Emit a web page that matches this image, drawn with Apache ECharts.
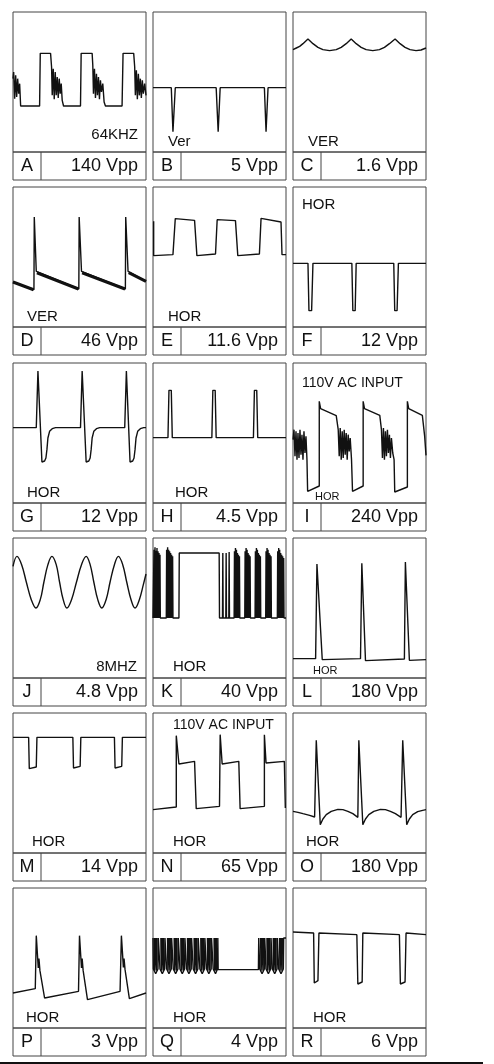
<!doctype html>
<html lang="en">
<head>
    <meta charset="UTF-8">
    <title>Waveforms A-R</title>
    <style>
        html, body { margin: 0; background: #fff; }
        #main { width: 494px; height: 1064px; }
    </style>
</head>
<body>
<div id="main"></div>
<script src="https://cdn.jsdelivr.net/npm/echarts@6/dist/echarts.min.js"></script>
<script>
    // panel names and peak-to-peak readings
    const letters = ['A','B','C','D','E','F','G','H','I','J','K','L','M','N','O','P','Q','R'];
    const vpp = ['140 Vpp','5 Vpp','1.6 Vpp','46 Vpp','11.6 Vpp','12 Vpp','12 Vpp','4.5 Vpp','240 Vpp',
                 '4.8 Vpp','40 Vpp','180 Vpp','14 Vpp','65 Vpp','180 Vpp','3 Vpp','4 Vpp','6 Vpp'];
    const notes = [['64KHZ'],['Ver'],['VER'],['VER'],['HOR'],['HOR'],['HOR'],['HOR'],['110V AC INPUT','HOR'],
                   ['8MHZ'],['HOR'],['HOR'],['HOR'],['110V AC INPUT','HOR'],['HOR'],['HOR'],['HOR'],['HOR']];

    // traces: [time 0..400, depth 0..420 from top of screen]
    const waveA = [[0,200],[2,180],[5,260],[8,190],[11,255],[14,200],[17,245],[20,215],[23,282],[80,282],[82,124],[113,124],
        [116,165],[118,250],[121,170],[124,262],[127,180],[130,250],[133,195],[136,258],[139,200],[142,245],[145,215],[148,265],[152,282],
        [203,282],[205,124],[238,124],[240,160],[242,245],[245,170],[248,258],[251,185],[254,250],[257,195],[260,262],[263,205],[266,240],
        [270,215],[274,270],[278,282],[328,282],[331,124],[363,124],[366,165],[368,250],[371,175],[374,262],[377,185],[380,250],[383,200],
        [386,258],[389,205],[392,245],[396,215],[400,250]];
    const waveB = [[0,227],[55,227],[60,359],[67,227],[190,227],[196,359],[202,227],[335,227],[340,359],[346,227],[400,227]];
    const waveC = [[0,113],[10,108],[20,103],[30,95],[45,81],[60,95],[75,106],[90,113],[110,116],[130,113],[145,106],[160,95],[175,81],
        [190,95],[205,106],[220,113],[240,116],[260,113],[275,106],[290,95],[307,81],[322,95],[337,106],[352,113],[370,116],[385,114],[400,108]];
    const waveD = [[0,285],[63,308],[64,90],[70,253],[73,258],[198,306],[199,90],[206,253],[210,258],[338,306],[339,90],[346,253],[350,258],[400,283]];
    const waveDBand = [[0,285],[62,308],[62,'-'],[72,257],[197,306],[197,'-'],[208,257],[337,306],[337,'-'],[348,257],[400,283]];
    const waveE = [[2,103],[2,206],[60,203],[67,95],[125,100],[132,206],[188,201],[193,98],[248,101],[255,206],[320,201],[325,94],[385,105],[388,203],[400,203]];
    const waveF = [[0,229],[45,229],[48,371],[56,371],[60,229],[177,229],[180,371],[187,371],[190,229],[303,229],[306,371],[313,371],[317,229],[400,229]];
    const waveG = [[0,194],[70,194],[75,24],[87,297],[95,294],[99,285],[102,260],[105,225],[110,205],[118,197],[128,194],[203,194],[208,24],
        [220,297],[228,294],[232,285],[235,260],[238,225],[243,205],[251,197],[261,194],[336,194],[341,24],[352,297],[360,294],[364,285],
        [367,260],[370,225],[375,205],[383,197],[393,194],[400,194]];
    const waveH = [[0,224],[45,224],[48,82],[55,82],[58,224],[177,224],[180,82],[187,82],[190,224],[302,224],[305,82],[312,82],[315,224],[400,224]];
    const waveI = [[0,230],[3,200],[6,280],[9,205],[12,290],[15,210],[18,285],[21,200],[24,275],[27,215],[30,290],[33,205],[36,270],[39,220],
        [42,290],[44,385],[79,369],[79,115],[83,137],[87,139],[130,158],[136,200],[139,280],[142,195],[145,290],[148,205],[151,285],[154,200],
        [157,275],[160,210],[163,290],[166,215],[169,265],[172,225],[176,290],[179,385],[211,369],[211,115],[215,137],[219,139],[261,157],
        [266,200],[269,285],[272,195],[275,290],[278,205],[281,280],[284,200],[287,270],[290,215],[293,285],[296,225],[300,270],[304,290],
        [306,387],[344,372],[344,115],[348,137],[352,139],[389,157],[396,220],[400,277]];
    const waveJ = [[0,85],[12,55],[26,80],[40,132],[55,185],[69,210],[82,185],[93,132],[105,80],[117,55],[130,80],[140,132],[151,185],
        [162,210],[176,185],[191,132],[206,80],[220,55],[232,80],[243,132],[255,185],[267,210],[280,185],[292,132],[305,80],[317,55],
        [330,80],[342,132],[355,185],[367,210],[380,185],[392,140],[400,108]];
    const waveK = [[0,240],[3,35],[4,240],[6,28],[7,240],[9,38],[10,240],[12,30],[13,240],[15,40],[16,240],[18,45],[19,240],[21,50],[22,240],
        [40,240],[41,35],[42,240],[44,28],[45,240],[47,35],[48,240],[50,40],[51,240],[53,45],[54,240],[56,50],[57,240],[59,55],[60,240],
        [78,240],[79,45],[199,45],[200,240],
        [209,240],[210,45],[211,240],[219,240],[220,45],[221,240],[228,240],[229,42],[230,240],
        [244,240],[245,40],[246,240],[248,30],[249,240],[251,35],[252,240],[254,45],[255,240],[257,50],[258,240],[260,55],[261,240],
        [276,240],[277,40],[278,240],[280,30],[281,240],[283,35],[284,240],[286,45],[287,240],[289,50],[290,240],[292,55],[293,240],
        [307,240],[308,40],[309,240],[311,30],[312,240],[314,35],[315,240],[317,45],[318,240],[320,50],[321,240],[323,55],[324,240],
        [339,240],[340,40],[341,240],[343,30],[344,240],[346,35],[347,240],[349,45],[350,240],[352,50],[353,240],[355,55],[356,240],
        [374,240],[375,40],[376,240],[378,30],[379,240],[381,35],[382,240],[384,45],[385,240],[387,50],[388,240],[390,55],[391,240],
        [393,60],[394,240],[400,240]];
    const waveL = [[0,362],[68,362],[72,78],[88,365],[203,362],[207,76],[218,368],[335,363],[338,72],[350,367],[400,365]];
    const waveM = [[0,73],[47,73],[49,167],[70,162],[72,73],[180,73],[182,165],[202,160],[204,73],[305,73],[307,165],[327,160],[329,73],[400,73]];
    const waveN = [[0,290],[70,282],[70,68],[78,153],[125,145],[130,287],[200,280],[202,65],[208,153],[258,145],[262,287],[335,280],
        [335,65],[340,150],[395,145],[398,285],[400,285]];
    const waveO = [[0,295],[15,298],[30,302],[50,307],[65,312],[70,82],[82,335],[90,318],[100,305],[115,295],[135,289],[150,290],[165,295],
        [180,302],[195,313],[198,82],[210,335],[218,318],[228,305],[243,295],[263,289],[278,290],[293,295],[308,302],[325,313],[330,82],
        [342,335],[350,318],[360,305],[375,296],[390,292],[400,290]];
    const waveP = [[0,315],[67,302],[70,143],[76,240],[78,212],[81,248],[95,330],[197,310],[200,143],[206,240],[208,212],[211,248],
        [224,335],[322,310],[326,143],[332,238],[334,212],[337,245],[350,332],[400,315]];
    // Q: outline of each pulse (left edge, pointed tip, right edge)
    const waveQ = [[0,150],[1,243],[8,257],[15,243],[16,150],
        [20,150],[21,243],[28,257],[35,243],[36,150],
        [40,150],[41,243],[48,257],[55,243],[56,150],
        [60,150],[61,243],[68,257],[75,243],[76,150],
        [80,150],[81,243],[88,257],[95,243],[96,150],
        [100,150],[101,243],[108,257],[115,243],[116,150],
        [120,150],[121,243],[128,257],[135,243],[136,150],
        [140,150],[141,243],[148,257],[155,243],[156,150],
        [160,150],[161,243],[168,257],[175,243],[176,150],
        [180,150],[181,243],[188,257],[194,243],[195,150],
        [196,245],[317,245],[318,150],
        [320,150],[321,243],[328,257],[335,243],[336,150],
        [339,150],[340,243],[347,257],[354,243],[355,150],
        [358,150],[359,243],[366,257],[373,243],[374,150],
        [377,150],[378,243],[385,257],[392,243],[393,150],[400,150]];
    // Q: solid body of each pulse (zigzag fill inside the outline)
    const waveQBand = [[4,150],[5,248],[8,150],[11,248],[12,150],'-',[24,150],[25,248],[28,150],[31,248],[32,150],'-',
        [44,150],[45,248],[48,150],[51,248],[52,150],'-',[64,150],[65,248],[68,150],[71,248],[72,150],'-',
        [84,150],[85,248],[88,150],[91,248],[92,150],'-',[104,150],[105,248],[108,150],[111,248],[112,150],'-',
        [124,150],[125,248],[128,150],[131,248],[132,150],'-',[144,150],[145,248],[148,150],[151,248],[152,150],'-',
        [164,150],[165,248],[168,150],[171,248],[172,150],'-',[184,150],[185,248],[188,150],[190,248],[191,150],'-',
        [324,150],[325,248],[328,150],[331,248],[332,150],'-',[343,150],[344,248],[347,150],[350,248],[351,150],'-',
        [362,150],[363,248],[366,150],[369,248],[370,150],'-',[381,150],[382,248],[385,150],[388,248],[389,150]];
    const waveR = [[0,132],[62,135],[64,285],[75,278],[78,135],[192,140],[195,288],[208,282],[210,135],[320,140],[323,288],[337,282],[340,135],[400,140]];

    const waves = [waveA, waveB, waveC, waveD, waveE, waveF, waveG, waveH, waveI,
                   waveJ, waveK, waveL, waveM, waveN, waveO, waveP, waveQ, waveR];

    // layout
    const colX = [13, 153, 293];
    const rowY = [12, 187, 363, 538, 713, 888];
    const PW = 133, PH = 140, FH = 28;
    // note placement per panel: [dx, dy, align, fontSize] for each note
    const notePos = [
        [[125, 123, 'right', 15]], [[15, 130, 'left', 15]], [[15, 130, 'left', 15]],
        [[14, 130, 'left', 15]], [[15, 130, 'left', 15]], [[9, 18, 'left', 15]],
        [[14, 130, 'left', 15]], [[22, 130, 'left', 15]], [[9, 20, 'left', 14], [22, 134, 'left', 11]],
        [[124, 129, 'right', 15]], [[20, 129, 'left', 15]], [[20, 133, 'left', 11]],
        [[19, 129, 'left', 15]], [[20, 12, 'left', 14], [20, 129, 'left', 15]], [[13, 129, 'left', 15]],
        [[13, 130, 'left', 15]], [[20, 130, 'left', 15]], [[20, 130, 'left', 15]]
    ];

    const FONT = '"Liberation Sans", Arial, sans-serif';
    const grids = [], xAxes = [], yAxes = [], series = [], graphics = [];

    waves.forEach(function (wave, i) {
        const left = colX[i % 3], top = rowY[Math.floor(i / 3)];
        grids.push({left: left, top: top, width: PW, height: PH, show: true,
            borderColor: '#444', borderWidth: 1, backgroundColor: 'transparent'});
        xAxes.push({type: 'value', gridIndex: i, min: 0, max: 400, show: false});
        yAxes.push({type: 'value', gridIndex: i, min: 0, max: 420, inverse: true, show: false});
        series.push({
            type: 'line', xAxisIndex: i, yAxisIndex: i, data: wave, symbol: 'none',
            smooth: wave === waveJ ? 0.4 : false,
            lineStyle: {color: '#111', width: 1.4}, silent: true
        });

        // footer box
        graphics.push({type: 'rect', shape: {x: left, y: top + PH, width: PW, height: FH},
            style: {fill: 'none', stroke: '#444', lineWidth: 1}});
        graphics.push({type: 'line', shape: {x1: left + 28, y1: top + PH, x2: left + 28, y2: top + PH + FH},
            style: {stroke: '#444', lineWidth: 1}});
        graphics.push({type: 'text', x: left + 14, y: top + PH + 14,
            style: {text: letters[i], font: '18px ' + FONT, fill: '#111',
                align: 'center', verticalAlign: 'middle', textAlign: 'center', textVerticalAlign: 'middle'}});
        graphics.push({type: 'text', x: left + 125, y: top + PH + 14,
            style: {text: vpp[i], font: '18px ' + FONT, fill: '#111',
                align: 'right', verticalAlign: 'middle', textAlign: 'right', textVerticalAlign: 'middle'}});

        notes[i].forEach(function (t, k) {
            const p = notePos[i][k];
            graphics.push({type: 'text', x: left + p[0], y: top + p[1],
                style: {text: t, font: p[3] + 'px ' + FONT, fill: '#111',
                    align: p[2], verticalAlign: 'middle', textAlign: p[2], textVerticalAlign: 'middle'}});
        });
    });

    // thicker noisy ramps on D
    series.push({type: 'line', xAxisIndex: 3, yAxisIndex: 3, data: waveDBand, symbol: 'none',
        lineStyle: {color: '#111', width: 3.2}, silent: true});
    // filled pulse bodies on Q
    series.push({type: 'line', xAxisIndex: 16, yAxisIndex: 16, data: waveQBand, symbol: 'none',
        lineStyle: {color: '#111', width: 1.6}, silent: true});

    graphics.push({type: 'line', shape: {x1: 0, y1: 1063, x2: 483, y2: 1063}, style: {stroke: '#111', lineWidth: 2}});

    const chart = echarts.init(document.getElementById('main'));
    chart.setOption({
        animation: false,
        grid: grids,
        xAxis: xAxes,
        yAxis: yAxes,
        series: series,
        graphic: {elements: graphics}
    });
</script>
</body>
</html>
